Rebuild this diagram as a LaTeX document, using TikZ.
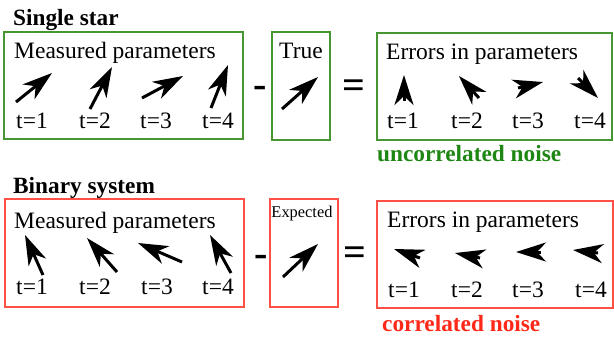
\documentclass[tikz,border=0pt]{standalone}
\usepackage{fontspec}
\setmainfont{Liberation Serif}
\usetikzlibrary{arrows.meta}

\definecolor{boxgreen}{RGB}{70,150,50}
\definecolor{txtgreen}{RGB}{30,135,20}
\definecolor{boxred}{RGB}{255,80,70}
\definecolor{txtred}{RGB}{255,40,25}

\begin{document}
\begin{tikzpicture}[x=1pt,y=-1pt,
  panel/.style={draw=#1, line width=1.3pt, inner sep=0pt},
  lbl/.style={anchor=base, inner sep=0pt, font=\fontsize{23.5}{28}\selectfont},
  title/.style={anchor=base west, inner sep=0pt, font=\fontsize{23.3}{28}\selectfont\bfseries},
  small/.style={anchor=base, inner sep=0pt, font=\fontsize{16.4}{20}\selectfont},
  oper/.style={anchor=base, inner sep=0pt, font=\fontsize{40}{40}\selectfont\bfseries},
  vec/.style={line width=3pt, -{Stealth[length=30pt 0 0,width=19pt 0,inset=9pt 0]}},
]
\useasboundingbox (0,0) rectangle (614,338);

% ---------- single star ----------
\node[title] (hs) at (13,25) {Single star};
\node[panel=boxgreen, minimum width=239pt, minimum height=107pt] (meas1) at (123.5,85.5) {};
\node[panel=boxgreen, minimum width=58pt, minimum height=108pt] (true) at (301,86) {};
\node[panel=boxgreen, minimum width=235pt, minimum height=107pt] (err1) at (494.5,86.5) {};

\node[lbl, anchor=base west] (m1t) at (14,58) {Measured parameters};
\node[lbl] (trt) at (301,58) {True};
\node[lbl, anchor=base west] (e1t) at (386,59) {Errors in parameters};

\node[oper] (minus1) at (260,97.5) {-};
\node[oper] (eq1) at (353.5,98) {=};

\foreach \x/\n in {32/1,95/2,156/3,218/4} \node[lbl] (ma\n) at (\x,128) {t=\n};
\foreach \x/\n in {403/1,467/2,528/3,590/4} \node[lbl] (ea\n) at (\x,128) {t=\n};

% measured vectors
\coordinate (a1s) at (16,102);  \coordinate (a1e) at (52,73);
\coordinate (a2s) at (90,109);  \coordinate (a2e) at (112,67);
\coordinate (a3s) at (142,98);  \coordinate (a3e) at (183,76);
\coordinate (a4s) at (211,108); \coordinate (a4e) at (228,65);
\coordinate (ts) at (282,109);  \coordinate (te) at (318,77);
\foreach \n in {1,2,3,4} \draw[vec] (a\n s) -- (a\n e);
\draw[vec] (ts) -- (te);

% residual vectors
\coordinate (r1s) at (404,101); \coordinate (r1e) at (404,75);
\coordinate (r2s) at (479,98);  \coordinate (r2e) at (459,76);
\coordinate (r3s) at (518,88);  \coordinate (r3e) at (543,82);
\coordinate (r4s) at (578,78);  \coordinate (r4e) at (598,98);
\foreach \n in {1,2,3,4} \draw[vec] (r\n s) -- (r\n e);

\node[title, text=txtgreen] (unc) at (377,161) {uncorrelated noise};

% ---------- binary system ----------
\node[title] (hb) at (13,193) {Binary system};
\node[panel=boxred, minimum width=239pt, minimum height=108pt] (meas2) at (124.5,253) {};
\node[panel=boxred, minimum width=68pt, minimum height=108pt] (expc) at (304,253) {};
\node[panel=boxred, minimum width=236pt, minimum height=107pt] (err2) at (495,254.5) {};

\node[lbl, anchor=base west] (m2t) at (14,228) {Measured parameters};
\node[small] (ext) at (302,217) {Expected};
\node[lbl, anchor=base west] (e2t) at (387,227) {Errors in parameters};

\node[oper] (minus2) at (261,266) {-};
\node[oper] (eq2) at (354.5,265) {=};

\foreach \x/\n in {32/1,95/2,157/3,218/4} \node[lbl] (mb\n) at (\x,294) {t=\n};
\foreach \x/\n in {404/1,467/2,528/3,591/4} \node[lbl] (eb\n) at (\x,297) {t=\n};

\coordinate (b1s) at (43,275);  \coordinate (b1e) at (25,235);
\coordinate (b2s) at (117,272); \coordinate (b2e) at (87,238);
\coordinate (b3s) at (182,262); \coordinate (b3e) at (138,243);
\coordinate (b4s) at (231,273); \coordinate (b4e) at (210,235);
\coordinate (xs) at (283,277);  \coordinate (xe) at (318,244);
\foreach \n in {1,2,3,4} \draw[vec] (b\n s) -- (b\n e);
\draw[vec] (xs) -- (xe);

\coordinate (q1s) at (420,258); \coordinate (q1e) at (394,249);
\coordinate (q2s) at (480,258); \coordinate (q2e) at (455,253);
\coordinate (q3s) at (541,252); \coordinate (q3e) at (516,252);
\coordinate (q4s) at (598,253); \coordinate (q4e) at (573,250);
\foreach \n in {1,2,3,4} \draw[vec] (q\n s) -- (q\n e);

\node[title, text=txtred] (cor) at (382,331) {correlated noise};
\end{tikzpicture}
\end{document}
